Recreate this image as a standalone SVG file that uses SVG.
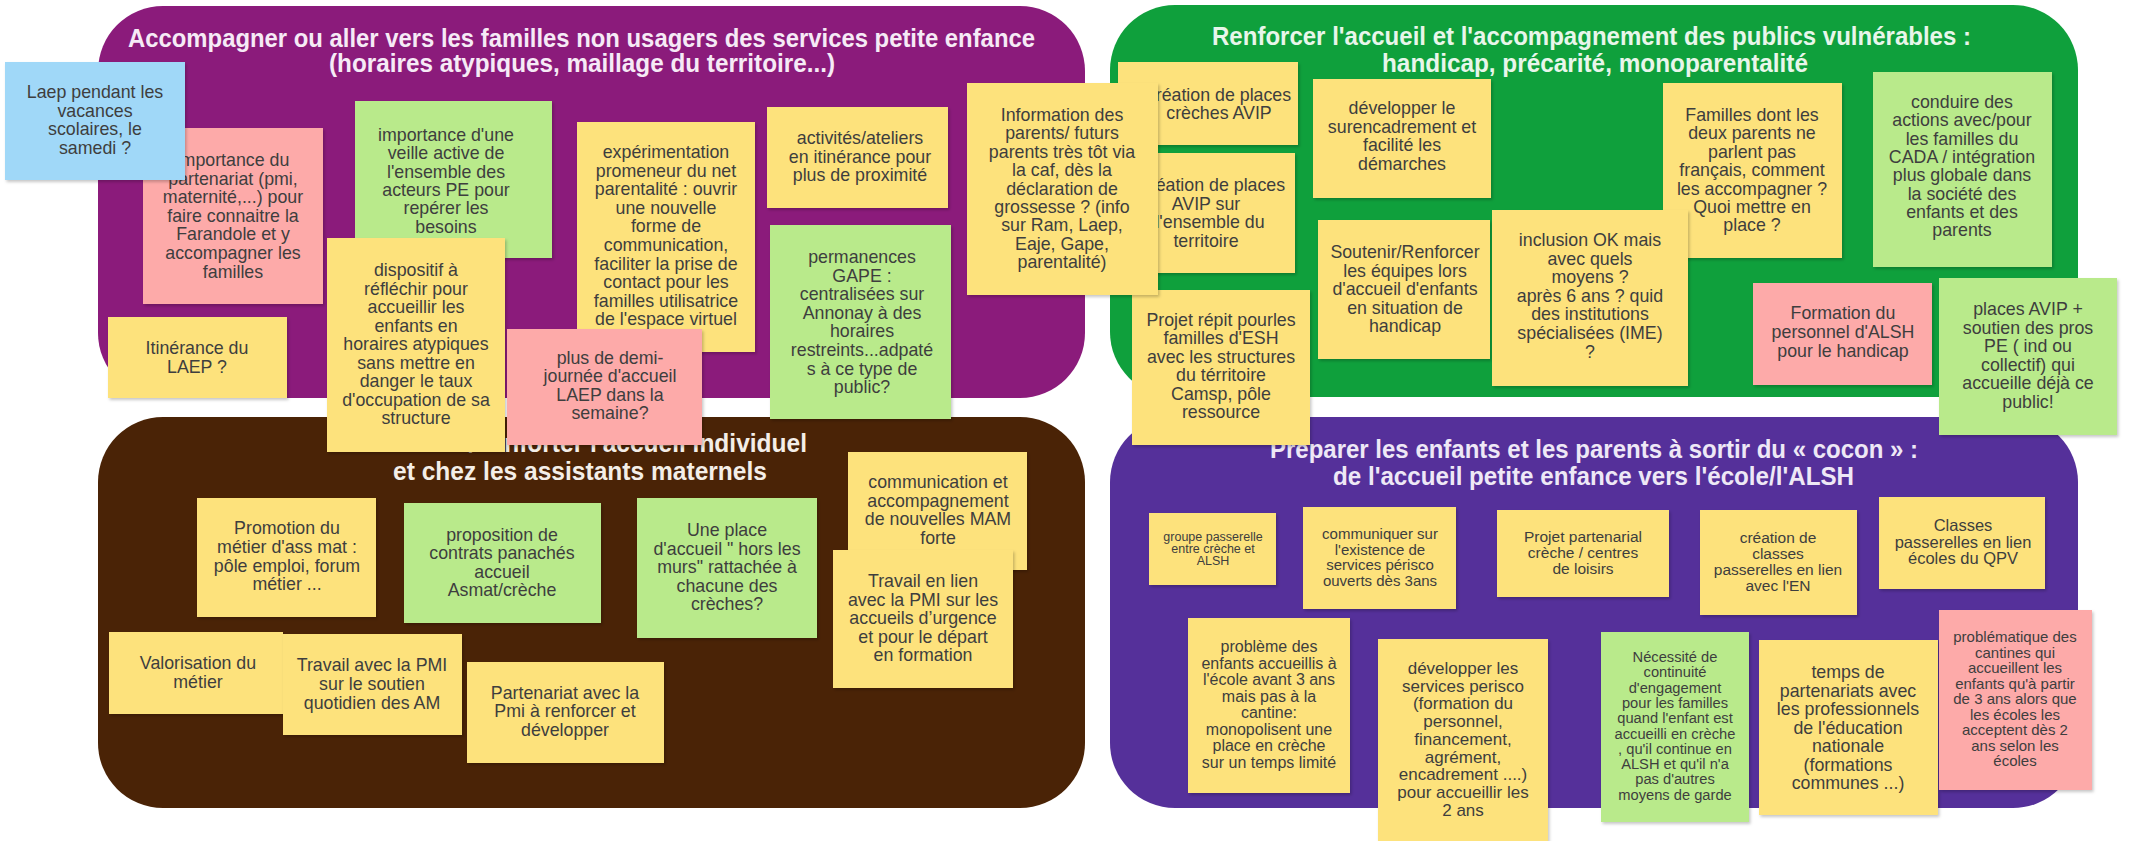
<svg xmlns="http://www.w3.org/2000/svg" width="2136" height="841" viewBox="0 0 2136 841">
<defs>
<filter id="sh" x="-10%" y="-10%" width="125%" height="125%">
<feDropShadow dx="1.5" dy="2" stdDeviation="1.5" flood-color="#000" flood-opacity="0.22"/>
</filter>
<style>
.ttl{font-family:"Liberation Sans Narrow","Arial Narrow","Liberation Sans",sans-serif;font-weight:bold;font-size:25px;}
.n{font-family:"Liberation Sans",Arial,sans-serif;font-size:17.8px;fill:#3e3e3e;text-anchor:middle;}
.y{fill:#fde27b;filter:url(#sh);}
.p{fill:#fdaaa9;filter:url(#sh);}
.g{fill:#b9ea8b;filter:url(#sh);}
.b{fill:#a0d8f8;filter:url(#sh);}
</style>
</defs>
<rect width="2136" height="841" fill="#ffffff"/>

<g id="panel-familles">
<rect x="98" y="6" width="987" height="392" rx="65" fill="#8b1b7b"/>
<text class="ttl" fill="#f6eaf6" x="128" y="47" textLength="907" lengthAdjust="spacingAndGlyphs">Accompagner ou aller vers les familles non usagers des services petite enfance</text>
<text class="ttl" fill="#f6eaf6" x="329" y="72" textLength="506" lengthAdjust="spacingAndGlyphs">(horaires atypiques, maillage du territoire...)</text>
</g>
<g id="panel-vulnerables">
<rect x="1110" y="5" width="968" height="392" rx="65" fill="#0fa03c"/>
<text class="ttl" fill="#e8f6ea" x="1212" y="45" textLength="759" lengthAdjust="spacingAndGlyphs">Renforcer l'accueil et l'accompagnement des publics vulnérables :</text>
<text class="ttl" fill="#e8f6ea" x="1382" y="72" textLength="426" lengthAdjust="spacingAndGlyphs">handicap, précarité, monoparentalité</text>
</g>
<g id="panel-individuel">
<rect x="98" y="417" width="987" height="391" rx="65" fill="#4a2306"/>
<text class="ttl" fill="#f4eee8" x="353" y="452" textLength="454" lengthAdjust="spacingAndGlyphs">Renforcer/conforter l'accueil individuel</text>
<text class="ttl" fill="#f4eee8" x="393" y="480" textLength="374" lengthAdjust="spacingAndGlyphs">et chez les assistants maternels</text>
</g>
<g id="panel-cocon">
<rect x="1110" y="417" width="968" height="391" rx="65" fill="#55309a"/>
<text class="ttl" fill="#eee8f6" x="1270" y="458" textLength="648" lengthAdjust="spacingAndGlyphs">Préparer les enfants et les parents à sortir du « cocon » :</text>
<text class="ttl" fill="#eee8f6" x="1333" y="485" textLength="521" lengthAdjust="spacingAndGlyphs">de l'accueil petite enfance vers l'école/l'ALSH</text>
</g>

<g id="connectors"></g>

<g id="n-partenariat-pmi">
<rect class="p" x="143" y="128" width="180" height="176"/>
<text class="n" y="166"><tspan x="233">importance du</tspan><tspan x="233" dy="18.6">partenariat (pmi,</tspan><tspan x="233" dy="18.6">maternité,...) pour</tspan><tspan x="233" dy="18.6">faire connaitre la</tspan><tspan x="233" dy="18.6">Farandole et y</tspan><tspan x="233" dy="18.6">accompagner les</tspan><tspan x="233" dy="18.6">familles</tspan></text>
</g>
<g id="n-laep-vacances">
<rect class="b" x="5" y="62" width="180" height="118"/>
<text class="n" y="98"><tspan x="95">Laep pendant les</tspan><tspan x="95" dy="18.5">vacances</tspan><tspan x="95" dy="18.5">scolaires, le</tspan><tspan x="95" dy="18.5">samedi ?</tspan></text>
</g>
<g id="n-veille">
<rect class="g" x="355" y="101" width="197" height="157"/>
<text class="n" y="141"><tspan x="446">importance d'une</tspan><tspan x="446" dy="18.3">veille active de</tspan><tspan x="446" dy="18.3">l'ensemble des</tspan><tspan x="446" dy="18.3">acteurs PE pour</tspan><tspan x="446" dy="18.3">repérer les</tspan><tspan x="446" dy="18.3">besoins</tspan></text>
</g>
<g id="n-dispositif">
<rect class="y" x="327" y="238" width="178" height="214"/>
<text class="n" y="276"><tspan x="416">dispositif à</tspan><tspan x="416" dy="18.5">réfléchir pour</tspan><tspan x="416" dy="18.5">accueillir les</tspan><tspan x="416" dy="18.5">enfants en</tspan><tspan x="416" dy="18.5">horaires atypiques</tspan><tspan x="416" dy="18.5">sans mettre en</tspan><tspan x="416" dy="18.5">danger le taux</tspan><tspan x="416" dy="18.5">d'occupation de sa</tspan><tspan x="416" dy="18.5">structure</tspan></text>
</g>
<g id="n-itinerance-laep">
<rect class="y" x="108" y="317" width="179" height="81"/>
<text class="n" y="354"><tspan x="197">Itinérance du</tspan><tspan x="197" dy="19">LAEP ?</tspan></text>
</g>
<g id="n-experimentation">
<rect class="y" x="577" y="122" width="178" height="230"/>
<text class="n" y="158"><tspan x="666">expérimentation</tspan><tspan x="666" dy="18.6">promeneur du net</tspan><tspan x="666" dy="18.6">parentalité : ouvrir</tspan><tspan x="666" dy="18.6">une nouvelle</tspan><tspan x="666" dy="18.6">forme de</tspan><tspan x="666" dy="18.6">communication,</tspan><tspan x="666" dy="18.6">faciliter la prise de</tspan><tspan x="666" dy="18.6">contact pour les</tspan><tspan x="666" dy="18.6">familles utilisatrice</tspan><tspan x="666" dy="18.6">de l'espace virtuel</tspan></text>
</g>
<g id="n-demi-journee">
<rect class="p" x="507" y="329" width="195" height="116"/>
<text class="n" y="364"><tspan x="610">plus de demi-</tspan><tspan x="610" dy="18.4">journée d'accueil</tspan><tspan x="610" dy="18.4">LAEP dans la</tspan><tspan x="610" dy="18.4">semaine?</tspan></text>
</g>
<g id="n-activites">
<rect class="y" x="767" y="107" width="181" height="101"/>
<text class="n" y="144"><tspan x="860">activités/ateliers</tspan><tspan x="860" dy="18.5">en itinérance pour</tspan><tspan x="860" dy="18.5">plus de proximité</tspan></text>
</g>
<g id="n-gape">
<rect class="g" x="770" y="225" width="181" height="194"/>
<text class="n" y="263"><tspan x="862">permanences</tspan><tspan x="862" dy="18.6">GAPE :</tspan><tspan x="862" dy="18.6">centralisées sur</tspan><tspan x="862" dy="18.6">Annonay à des</tspan><tspan x="862" dy="18.6">horaires</tspan><tspan x="862" dy="18.6">restreints...adpaté</tspan><tspan x="862" dy="18.6">s à ce type de</tspan><tspan x="862" dy="18.6">public?</tspan></text>
</g>

<g id="n-creation-creches">
<rect class="y" x="1118" y="62" width="180" height="83"/>
<text class="n" y="101"><tspan x="1219">création de places</tspan><tspan x="1219" dy="18">crèches AVIP</tspan></text>
</g>
<g id="n-creation-territoire">
<rect class="y" x="1115" y="153" width="180" height="120"/>
<text class="n" y="191"><tspan x="1213">création de places</tspan><tspan x="1206" dy="18.5">AVIP sur</tspan><tspan x="1210" dy="18.5">l'ensemble du</tspan><tspan x="1206" dy="18.5">territoire</tspan></text>
</g>
<g id="n-projet-repit">
<rect class="y" x="1132" y="290" width="178" height="155"/>
<text class="n" y="326"><tspan x="1221">Projet répit pourles</tspan><tspan x="1221" dy="18.4">familles d'ESH</tspan><tspan x="1221" dy="18.4">avec les structures</tspan><tspan x="1221" dy="18.4">du térritoire</tspan><tspan x="1221" dy="18.4">Camsp, pôle</tspan><tspan x="1221" dy="18.4">ressource</tspan></text>
</g>
<g id="n-information">
<rect class="y" x="967" y="83" width="191" height="212"/>
<text class="n" y="121"><tspan x="1062">Information des</tspan><tspan x="1062" dy="18.4">parents/ futurs</tspan><tspan x="1062" dy="18.4">parents très tôt via</tspan><tspan x="1062" dy="18.4">la caf, dès la</tspan><tspan x="1062" dy="18.4">déclaration de</tspan><tspan x="1062" dy="18.4">grossesse ? (info</tspan><tspan x="1062" dy="18.4">sur Ram, Laep,</tspan><tspan x="1062" dy="18.4">Eaje, Gape,</tspan><tspan x="1062" dy="18.4">parentalité)</tspan></text>
</g>
<g id="n-surencadrement">
<rect class="y" x="1313" y="79" width="178" height="119"/>
<text class="n" y="114"><tspan x="1402">développer le</tspan><tspan x="1402" dy="18.6">surencadrement et</tspan><tspan x="1402" dy="18.6">facilité les</tspan><tspan x="1402" dy="18.6">démarches</tspan></text>
</g>
<g id="n-soutenir">
<rect class="y" x="1318" y="220" width="172" height="139"/>
<text class="n" y="258"><tspan x="1405">Soutenir/Renforcer</tspan><tspan x="1405" dy="18.5">les équipes lors</tspan><tspan x="1405" dy="18.5">d'accueil d'enfants</tspan><tspan x="1405" dy="18.5">en situation de</tspan><tspan x="1405" dy="18.5">handicap</tspan></text>
</g>
<g id="n-familles-francais">
<rect class="y" x="1663" y="83" width="179" height="175"/>
<text class="n" y="121"><tspan x="1752">Familles dont les</tspan><tspan x="1752" dy="18.4">deux parents ne</tspan><tspan x="1752" dy="18.4">parlent pas</tspan><tspan x="1752" dy="18.4">français, comment</tspan><tspan x="1752" dy="18.4">les accompagner ?</tspan><tspan x="1752" dy="18.4">Quoi mettre en</tspan><tspan x="1752" dy="18.4">place ?</tspan></text>
</g>
<g id="n-inclusion">
<rect class="y" x="1492" y="210" width="196" height="176"/>
<text class="n" y="246"><tspan x="1590">inclusion OK mais</tspan><tspan x="1590" dy="18.6">avec quels</tspan><tspan x="1590" dy="18.6">moyens ?</tspan><tspan x="1590" dy="18.6">après 6 ans ? quid</tspan><tspan x="1590" dy="18.6">des institutions</tspan><tspan x="1590" dy="18.6">spécialisées (IME)</tspan><tspan x="1590" dy="18.6">?</tspan></text>
</g>
<g id="n-cada">
<rect class="g" x="1873" y="72" width="179" height="195"/>
<text class="n" y="108"><tspan x="1962">conduire des</tspan><tspan x="1962" dy="18.3">actions avec/pour</tspan><tspan x="1962" dy="18.3">les familles du</tspan><tspan x="1962" dy="18.3">CADA / intégration</tspan><tspan x="1962" dy="18.3">plus globale dans</tspan><tspan x="1962" dy="18.3">la société des</tspan><tspan x="1962" dy="18.3">enfants et des</tspan><tspan x="1962" dy="18.3">parents</tspan></text>
</g>
<g id="n-formation-alsh">
<rect class="p" x="1753" y="283" width="179" height="102"/>
<text class="n" y="319"><tspan x="1843">Formation du</tspan><tspan x="1843" dy="18.8">personnel d'ALSH</tspan><tspan x="1843" dy="18.8">pour le handicap</tspan></text>
</g>
<g id="n-places-avip">
<rect class="g" x="1939" y="278" width="178" height="157"/>
<text class="n" y="315"><tspan x="2028">places AVIP +</tspan><tspan x="2028" dy="18.6">soutien des pros</tspan><tspan x="2028" dy="18.6">PE ( ind ou</tspan><tspan x="2028" dy="18.6">collectif) qui</tspan><tspan x="2028" dy="18.6">accueille déjà ce</tspan><tspan x="2028" dy="18.6">public!</tspan></text>
</g>

<g id="n-promotion">
<rect class="y" x="197" y="498" width="179" height="119"/>
<text class="n" y="534"><tspan x="287">Promotion du</tspan><tspan x="287" dy="18.8">métier d'ass mat :</tspan><tspan x="287" dy="18.8">pôle emploi, forum</tspan><tspan x="287" dy="18.8">métier ...</tspan></text>
</g>
<g id="n-contrats">
<rect class="g" x="404" y="503" width="197" height="120"/>
<text class="n" y="541"><tspan x="502">proposition de</tspan><tspan x="502" dy="18.3">contrats panachés</tspan><tspan x="502" dy="18.3">accueil</tspan><tspan x="502" dy="18.3">Asmat/crèche</tspan></text>
</g>
<g id="n-hors-murs">
<rect class="g" x="637" y="498" width="180" height="140"/>
<text class="n" y="536"><tspan x="727">Une place</tspan><tspan x="727" dy="18.5">d'accueil " hors les</tspan><tspan x="727" dy="18.5">murs" rattachée à</tspan><tspan x="727" dy="18.5">chacune des</tspan><tspan x="727" dy="18.5">crèches?</tspan></text>
</g>
<g id="n-mam">
<rect class="y" x="848" y="452" width="179" height="118"/>
<text class="n" y="488"><tspan x="938">communication et</tspan><tspan x="938" dy="18.7">accompagnement</tspan><tspan x="938" dy="18.7">de nouvelles MAM</tspan><tspan x="938" dy="18.7">forte</tspan></text>
</g>
<g id="n-urgence">
<rect class="y" x="833" y="550" width="180" height="138"/>
<text class="n" y="587"><tspan x="923">Travail en lien</tspan><tspan x="923" dy="18.5">avec la PMI sur les</tspan><tspan x="923" dy="18.5">accueils d’urgence</tspan><tspan x="923" dy="18.5">et pour le départ</tspan><tspan x="923" dy="18.5">en formation</tspan></text>
</g>
<g id="n-valorisation">
<rect class="y" x="109" y="632" width="174" height="82"/>
<text class="n" y="669"><tspan x="198">Valorisation du</tspan><tspan x="198" dy="19">métier</tspan></text>
</g>
<g id="n-soutien-am">
<rect class="y" x="283" y="634" width="179" height="101"/>
<text class="n" y="671"><tspan x="372">Travail avec la PMI</tspan><tspan x="372" dy="19">sur le soutien</tspan><tspan x="372" dy="19">quotidien des AM</tspan></text>
</g>
<g id="n-partenariat-pmi-renforcer">
<rect class="y" x="467" y="662" width="197" height="101"/>
<text class="n" y="699"><tspan x="565">Partenariat avec la</tspan><tspan x="565" dy="18.3">Pmi à renforcer et</tspan><tspan x="565" dy="18.3">développer</tspan></text>
</g>

<g id="n-groupe-passerelle">
<rect class="y" x="1149" y="513" width="127" height="72"/>
<text class="n" style="font-size:12.5px" y="541"><tspan x="1213">groupe passerelle</tspan><tspan x="1213" dy="12">entre crèche et</tspan><tspan x="1213" dy="12">ALSH</tspan></text>
</g>
<g id="n-communiquer">
<rect class="y" x="1303" y="507" width="153" height="102"/>
<text class="n" style="font-size:15px" y="539"><tspan x="1380">communiquer sur</tspan><tspan x="1380" dy="15.5">l'existence de</tspan><tspan x="1380" dy="15.5">services périsco</tspan><tspan x="1380" dy="15.5">ouverts dès 3ans</tspan></text>
</g>
<g id="n-projet-partenarial">
<rect class="y" x="1497" y="510" width="172" height="87"/>
<text class="n" style="font-size:15.5px" y="542"><tspan x="1583">Projet partenarial</tspan><tspan x="1583" dy="16">crèche / centres</tspan><tspan x="1583" dy="16">de loisirs</tspan></text>
</g>
<g id="n-classes-en">
<rect class="y" x="1700" y="510" width="157" height="105"/>
<text class="n" style="font-size:15.5px" y="543"><tspan x="1778">création de</tspan><tspan x="1778" dy="16">classes</tspan><tspan x="1778" dy="16">passerelles en lien</tspan><tspan x="1778" dy="16">avec l'EN</tspan></text>
</g>
<g id="n-classes-qpv">
<rect class="y" x="1879" y="497" width="166" height="92"/>
<text class="n" style="font-size:16.5px" y="531"><tspan x="1963">Classes</tspan><tspan x="1963" dy="16.6">passerelles en lien</tspan><tspan x="1963" dy="16.6">écoles du QPV</tspan></text>
</g>
<g id="n-cantine-creche">
<rect class="y" x="1188" y="618" width="162" height="175"/>
<text class="n" style="font-size:16px" y="652"><tspan x="1269">problème des</tspan><tspan x="1269" dy="16.5">enfants accueillis à</tspan><tspan x="1269" dy="16.5">l'école avant 3 ans</tspan><tspan x="1269" dy="16.5">mais pas à la</tspan><tspan x="1269" dy="16.5">cantine:</tspan><tspan x="1269" dy="16.5">monopolisent une</tspan><tspan x="1269" dy="16.5">place en crèche</tspan><tspan x="1269" dy="16.5">sur un temps limité</tspan></text>
</g>
<g id="n-perisco">
<rect class="y" x="1378" y="639" width="170" height="205"/>
<text class="n" style="font-size:17px" y="674"><tspan x="1463">développer les</tspan><tspan x="1463" dy="17.7">services perisco</tspan><tspan x="1463" dy="17.7">(formation du</tspan><tspan x="1463" dy="17.7">personnel,</tspan><tspan x="1463" dy="17.7">financement,</tspan><tspan x="1463" dy="17.7">agrément,</tspan><tspan x="1463" dy="17.7">encadrement ....)</tspan><tspan x="1463" dy="17.7">pour accueillir les</tspan><tspan x="1463" dy="17.7">2 ans</tspan></text>
</g>
<g id="n-continuite">
<rect class="g" x="1601" y="632" width="148" height="190"/>
<text class="n" style="font-size:14.7px" y="662"><tspan x="1675">Nécessité de</tspan><tspan x="1675" dy="15.3">continuité</tspan><tspan x="1675" dy="15.3">d'engagement</tspan><tspan x="1675" dy="15.3">pour les familles</tspan><tspan x="1675" dy="15.3">quand l'enfant est</tspan><tspan x="1675" dy="15.3">accueilli en crèche</tspan><tspan x="1675" dy="15.3">, qu'il continue en</tspan><tspan x="1675" dy="15.3">ALSH et qu'il n'a</tspan><tspan x="1675" dy="15.3">pas d'autres</tspan><tspan x="1675" dy="15.3">moyens de garde</tspan></text>
</g>
<g id="n-education-nationale">
<rect class="y" x="1759" y="640" width="179" height="175"/>
<text class="n" y="678"><tspan x="1848">temps de</tspan><tspan x="1848" dy="18.5">partenariats avec</tspan><tspan x="1848" dy="18.5">les professionnels</tspan><tspan x="1848" dy="18.5">de l'éducation</tspan><tspan x="1848" dy="18.5">nationale</tspan><tspan x="1848" dy="18.5">(formations</tspan><tspan x="1848" dy="18.5">communes ...)</tspan></text>
</g>
<g id="n-cantines">
<rect class="p" x="1939" y="610" width="153" height="180"/>
<text class="n" style="font-size:15px" y="642"><tspan x="2015">problématique des</tspan><tspan x="2015" dy="15.5">cantines qui</tspan><tspan x="2015" dy="15.5">accueillent les</tspan><tspan x="2015" dy="15.5">enfants qu'à partir</tspan><tspan x="2015" dy="15.5">de 3 ans alors que</tspan><tspan x="2015" dy="15.5">les écoles les</tspan><tspan x="2015" dy="15.5">acceptent dès 2</tspan><tspan x="2015" dy="15.5">ans selon les</tspan><tspan x="2015" dy="15.5">écoles</tspan></text>
</g>
</svg>
